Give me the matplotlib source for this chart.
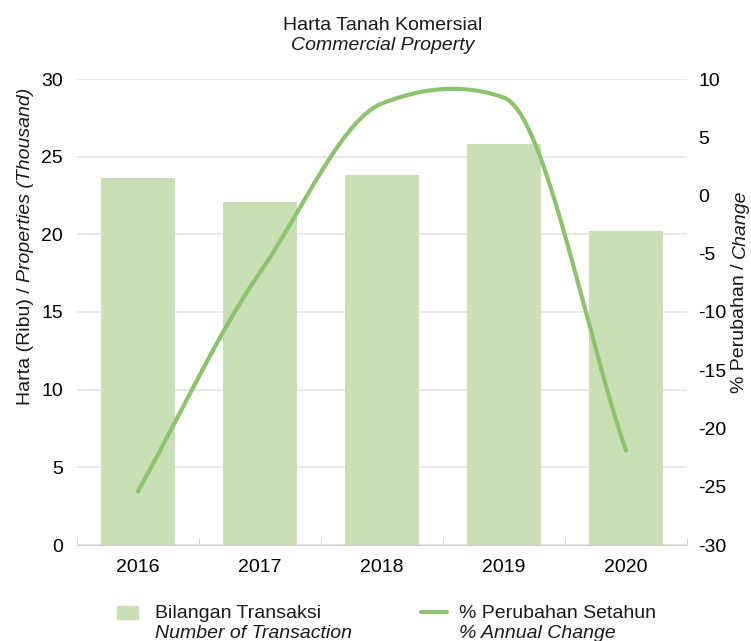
import matplotlib
matplotlib.use("Agg")
import matplotlib.pyplot as plt
import numpy as np
from matplotlib.patches import Rectangle
from matplotlib.lines import Line2D

years = ["2016", "2017", "2018", "2019", "2020"]
transactions = [23.6, 22.1, 23.8, 25.8, 20.2]   # thousand properties
annual_change = [-25.4, -6.6, 7.9, 8.4, -21.9]  # %

C_BAR = "#c9e0b4"
C_LINE = "#8cc46e"
C_GRID = "#e3e3e3"
C_TEXT = "#1a1a1a"

plt.rcParams.update({
    "font.family": ["Liberation Sans", "DejaVu Sans"],
    "font.size": 14,
    "text.color": C_TEXT,
    "axes.unicode_minus": False,
})


def smooth(y, tension=(1.0, 0.9, 0.55, 0.25, 1.0), n=60):
    # Hermite smoothing between the data points, for drawing only
    y = np.asarray(y, float)
    x = np.arange(len(y), dtype=float)
    m = np.zeros_like(y)
    m[1:-1] = (y[2:] - y[:-2]) / 2
    m[0] = y[1] - y[0]
    m[-1] = y[-1] - y[-2]
    m *= np.asarray(tension)
    xs, ys = [], []
    for i in range(len(y) - 1):
        t = np.linspace(0, 1, n)
        h00 = 2 * t**3 - 3 * t**2 + 1
        h10 = t**3 - 2 * t**2 + t
        h01 = -2 * t**3 + 3 * t**2
        h11 = t**3 - t**2
        xs.append(x[i] + t)
        ys.append(h00 * y[i] + h10 * m[i] + h01 * y[i + 1] + h11 * m[i + 1])
    return np.concatenate(xs), np.concatenate(ys)


W, H = 751, 641
fig = plt.figure(figsize=(W / 100, H / 100), dpi=100)
ax = fig.add_axes([77 / W, 1 - 545 / H, 610 / W, 466 / H])
ax2 = ax.twinx()

x = np.arange(len(years))
ax.bar(x, transactions, width=0.6, color=C_BAR, zorder=2)
ax.set_xlim(-0.5, 4.5)
ax.set_ylim(0, 30)
ax.set_yticks(np.arange(0, 31, 5))
ax.grid(axis="y", color=C_GRID, lw=1.2, zorder=0)
ax.set_axisbelow(True)
ax.set_xticks(x)
ax.set_xticklabels(years)
ax.set_xticks(np.arange(-0.5, 5, 1), minor=True)
ax.tick_params(axis="x", which="major", length=0, pad=10)
ax.tick_params(axis="x", which="minor", direction="in", length=5,
               color="#d0d0d0")
ax.tick_params(axis="y", length=0, pad=10)
for s in ["top", "right", "left"]:
    ax.spines[s].set_visible(False)
ax.spines["bottom"].set_color("#d0d0d0")

xs, ys = smooth(annual_change)
ax2.plot(xs, ys, color=C_LINE, lw=3, solid_capstyle="round", zorder=3)
ax2.set_ylim(-30, 10)
ax2.set_yticks(np.arange(-30, 11, 5))
ax2.tick_params(axis="y", length=0, pad=8)
for s in ax2.spines.values():
    s.set_visible(False)

# title
fig.text(383 / W, 1 - 25 / H, "Harta Tanah Komersial", ha="center", va="center",
         fontsize=14)
fig.text(383 / W, 1 - 45 / H, "Commercial Property", ha="center", va="center",
         fontsize=14, style="italic")

fig.canvas.draw()
r = fig.canvas.get_renderer()


def vlabel(xpx, ybottom, parts):
    y = ybottom
    for txt, st in parts:
        t = fig.text(xpx / W, 1 - y / H, txt, rotation=90, ha="center",
                     va="bottom", style=st, fontsize=14)
        bb = t.get_window_extent(r)
        y -= bb.height


vlabel(25, 405, [("Harta (Ribu) / ", "normal"),
                 ("Properties (Thousand)", "italic")])
vlabel(740, 393, [("% Perubahan / ", "normal"), ("Change", "italic")])

# legend
fig.patches.append(Rectangle((117 / W, 1 - 619 / H), 21 / W, 13 / H,
                             transform=fig.transFigure, color=C_BAR))
fig.lines.append(Line2D([421 / W, 447 / W], [1 - 612 / H, 1 - 612 / H],
                        transform=fig.transFigure, color=C_LINE, lw=3,
                        solid_capstyle="round"))
fig.text(155 / W, 1 - 613 / H, "Bilangan Transaksi", va="center", fontsize=14)
fig.text(155 / W, 1 - 633 / H, "Number of Transaction", va="center",
         fontsize=14, style="italic")
fig.text(459 / W, 1 - 613 / H, "% Perubahan Setahun", va="center", fontsize=14)
fig.text(459 / W, 1 - 633 / H, "% Annual Change", va="center",
         fontsize=14, style="italic")

fig.savefig("out.png", dpi=100, facecolor="white")
